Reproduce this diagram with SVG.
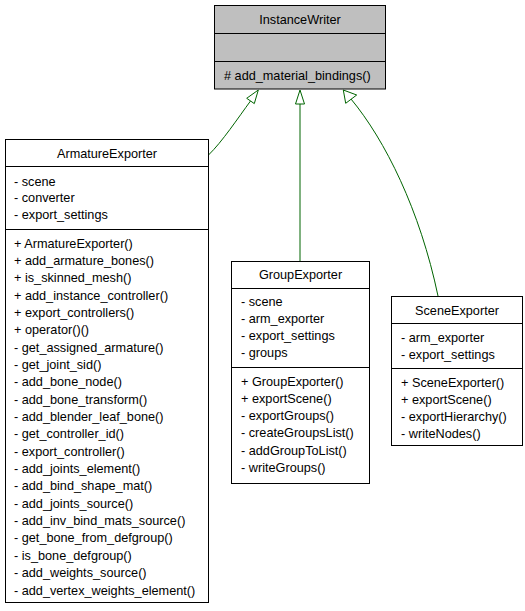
<svg xmlns="http://www.w3.org/2000/svg" width="525" height="611" viewBox="0 0 525 611">
<style>
text{font-family:"Liberation Sans",Arial,sans-serif;font-size:12.7px;fill:#000}
.c{text-anchor:middle}
.box{fill:#fff;stroke:#000;stroke-width:1}
.gray{fill:#bfbfbf;stroke:#000;stroke-width:1}
.sep{stroke:#000;stroke-width:1}
.edge{fill:none;stroke:#006400;stroke-width:1}
.head{fill:#fff;stroke:#006400;stroke-width:1}
</style>
<rect width="525" height="611" fill="#fff"/>
<g id="connectors">
<path class="edge" d="M208.5,155 C222,142 238,118 250.5,101"/>
<polygon class="head" points="258.3,90 246.7,98.3 254.3,103.6"/>
<path class="edge" d="M300,104 L300,261"/>
<polygon class="head" points="300,90 295.5,104 304.5,104"/>
<path class="edge" d="M351,99 C385,140 420,210 438,296"/>
<polygon class="head" points="343.3,90 345.7,103.3 356.7,95"/>
</g>
<g id="InstanceWriter">
<rect class="gray" x="214.5" y="5.5" width="171" height="83.5"/>
<line class="sep" x1="214.5" y1="33.5" x2="385.5" y2="33.5"/>
<line class="sep" x1="214.5" y1="61.5" x2="385.5" y2="61.5"/>
<text class="c" x="300" y="24">InstanceWriter</text>
<text x="224" y="80">#  add_material_bindings()</text>
</g>
<g id="ArmatureExporter">
<rect class="box" x="5.5" y="139.5" width="203" height="463"/>
<line class="sep" x1="5.5" y1="166.5" x2="208.5" y2="166.5"/>
<line class="sep" x1="5.5" y1="229.5" x2="208.5" y2="229.5"/>
<text class="c" x="107" y="157.5">ArmatureExporter</text>
<text x="14" y="185.5">- scene</text>
<text x="14" y="202.3">- converter</text>
<text x="14" y="219">- export_settings</text>
<text x="14" y="247.5">+ ArmatureExporter()</text>
<text x="14" y="264.85">+ add_armature_bones()</text>
<text x="14" y="282.2">+ is_skinned_mesh()</text>
<text x="14" y="299.55">+ add_instance_controller()</text>
<text x="14" y="316.9">+ export_controllers()</text>
<text x="14" y="334.25">+ operator()()</text>
<text x="14" y="351.6">- get_assigned_armature()</text>
<text x="14" y="368.95">- get_joint_sid()</text>
<text x="14" y="386.3">- add_bone_node()</text>
<text x="14" y="403.65">- add_bone_transform()</text>
<text x="14" y="421">- add_blender_leaf_bone()</text>
<text x="14" y="438.35">- get_controller_id()</text>
<text x="14" y="455.7">- export_controller()</text>
<text x="14" y="473.05">- add_joints_element()</text>
<text x="14" y="490.4">- add_bind_shape_mat()</text>
<text x="14" y="507.75">- add_joints_source()</text>
<text x="14" y="525.1">- add_inv_bind_mats_source()</text>
<text x="14" y="542.45">- get_bone_from_defgroup()</text>
<text x="14" y="559.8">- is_bone_defgroup()</text>
<text x="14" y="577.15">- add_weights_source()</text>
<text x="14" y="594.5">- add_vertex_weights_element()</text>
</g>
<g id="GroupExporter">
<rect class="box" x="231.5" y="261.5" width="138" height="222"/>
<line class="sep" x1="231.5" y1="288.5" x2="369.5" y2="288.5"/>
<line class="sep" x1="231.5" y1="367.5" x2="369.5" y2="367.5"/>
<text class="c" x="300.5" y="279">GroupExporter</text>
<text x="241" y="305.5">- scene</text>
<text x="241" y="322.8">- arm_exporter</text>
<text x="241" y="340.1">- export_settings</text>
<text x="241" y="357.4">- groups</text>
<text x="241" y="385.5">+ GroupExporter()</text>
<text x="241" y="402.8">+ exportScene()</text>
<text x="241" y="420.1">- exportGroups()</text>
<text x="241" y="437.4">- createGroupsList()</text>
<text x="241" y="454.7">- addGroupToList()</text>
<text x="241" y="472">- writeGroups()</text>
</g>
<g id="SceneExporter">
<rect class="box" x="391.5" y="296.5" width="131" height="149"/>
<line class="sep" x1="391.5" y1="323.5" x2="522.5" y2="323.5"/>
<line class="sep" x1="391.5" y1="368.5" x2="522.5" y2="368.5"/>
<text class="c" x="457" y="314.5">SceneExporter</text>
<text x="401" y="341.5">- arm_exporter</text>
<text x="401" y="358.5">- export_settings</text>
<text x="401" y="386.5">+ SceneExporter()</text>
<text x="401" y="403.5">+ exportScene()</text>
<text x="401" y="420.5">- exportHierarchy()</text>
<text x="401" y="437.5">- writeNodes()</text>
</g>
</svg>
